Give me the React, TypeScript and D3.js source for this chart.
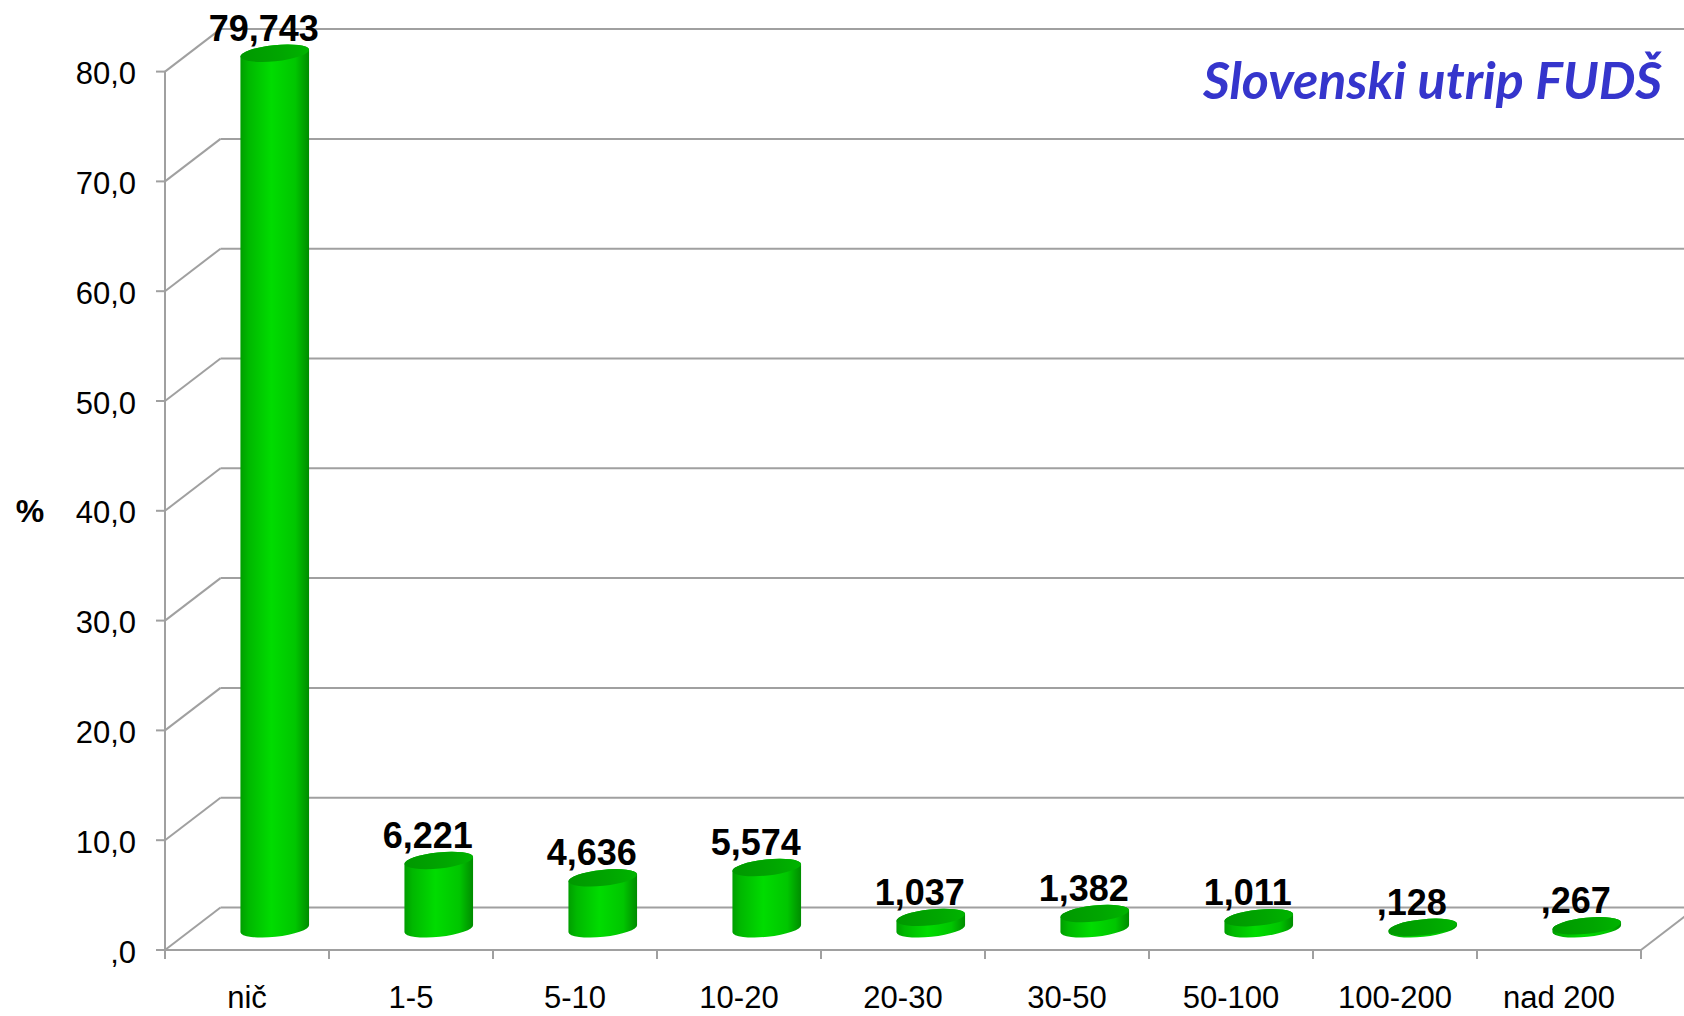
import * as d3 from "d3";

const categories = ["nič", "1-5", "5-10", "10-20", "20-30", "30-50", "50-100", "100-200", "nad 200"];
const values = [79.743, 6.221, 4.636, 5.574, 1.037, 1.382, 1.011, 0.128, 0.267];
const yTicks = [0, 10, 20, 30, 40, 50, 60, 70, 80];
const yAxisTitle = "%";
const chartTitle = "Slovenski utrip FUDŠ";

const W = 1684;
const H = 1016;

// 3D depth offset of the back wall
const depthX = 55.5;
const depthY = -42.5;

const gridColor = "#a0a0a0";
const font = "'Liberation Sans', Arial, sans-serif";

const fmtTick = (v: number) => (v === 0 ? ",0" : v.toFixed(1).replace(".", ","));
const fmtValue = (v: number) => v.toFixed(3).replace(".", ",").replace(/^0/, "");

export default function App() {
  const x = d3.scaleBand<string>().domain(categories).range([165, 1641]).padding(0);
  const y = d3.scaleLinear().domain([0, 80]).range([950, 71.6]);
  const bw = x.bandwidth();

  const rx = 34.5;
  const ry = 8;
  const tilt = -6;
  const th = (tilt * Math.PI) / 180;
  const ex = rx * Math.cos(th);
  const ey = rx * Math.sin(th);

  const y0 = y(0);
  const xL = x.range()[0];
  const xR = x.range()[1];

  return (
    <svg width={W} height={H} style={{ position: "absolute", left: 0, top: 0, background: "#fff" }}>
      <defs>
        <linearGradient id="body" x1="0" x2="1" y1="0" y2="0">
          <stop offset="0" stopColor="#009e00" />
          <stop offset="0.12" stopColor="#00b800" />
          <stop offset="0.45" stopColor="#00dc00" />
          <stop offset="0.8" stopColor="#00c600" />
          <stop offset="1" stopColor="#008c00" />
        </linearGradient>
        <linearGradient id="top" x1="0" x2="1" y1="0" y2="0">
          <stop offset="0" stopColor="#009800" />
          <stop offset="0.6" stopColor="#00a600" />
          <stop offset="1" stopColor="#00b400" />
        </linearGradient>
      </defs>

      {/* back wall gridlines */}
      {yTicks.map((t) => (
        <line
          key={"g" + t}
          x1={xL + depthX}
          x2={xR + depthX}
          y1={y(t) + depthY}
          y2={y(t) + depthY}
          stroke={gridColor}
          strokeWidth={2}
        />
      ))}

      {/* left wall diagonals */}
      {yTicks.map((t) => (
        <line
          key={"d" + t}
          x1={xL}
          x2={xL + depthX}
          y1={y(t)}
          y2={y(t) + depthY}
          stroke={gridColor}
          strokeWidth={2}
        />
      ))}

      {/* front vertical axis */}
      <line x1={xL} x2={xL} y1={y(80)} y2={y0 + 9} stroke={gridColor} strokeWidth={2} />
      {/* floor front edge and right edge */}
      <line x1={xL} x2={xR} y1={y0} y2={y0} stroke={gridColor} strokeWidth={2} />
      <line x1={xR} x2={xR + depthX} y1={y0} y2={y0 + depthY} stroke={gridColor} strokeWidth={2} />

      {/* y ticks */}
      {yTicks.map((t) => (
        <g key={"t" + t}>
          <line x1={xL - 9} x2={xL} y1={y(t)} y2={y(t)} stroke={gridColor} strokeWidth={2} />
          <text x={136} y={y(t) + 12.5} textAnchor="end" fontFamily={font} fontSize={31} fill="#000">
            {fmtTick(t)}
          </text>
        </g>
      ))}

      {/* x ticks and labels */}
      {categories.map((c, i) => (
        <g key={"x" + c}>
          <line x1={x(c)! + bw} x2={x(c)! + bw} y1={y0} y2={y0 + 9} stroke={gridColor} strokeWidth={2} />
          {i === 0 && <line x1={x(c)!} x2={x(c)!} y1={y0} y2={y0 + 9} stroke={gridColor} strokeWidth={2} />}
          <text x={x(c)! + bw / 2} y={1008} textAnchor="middle" fontFamily={font} fontSize={31} fill="#000">
            {c}
          </text>
        </g>
      ))}

      {/* cylinders */}
      {categories.map((c, i) => {
        const v = values[i];
        const cx = x(c)! + bw / 2 + depthX / 2;
        const cyB = y0 + depthY / 2;
        const cyT = y(v) + depthY / 2;
        const d =
          `M${cx - ex},${cyT - ey} L${cx - ex},${cyB - ey} ` +
          `A${rx},${ry} ${tilt} 0 0 ${cx + ex},${cyB + ey} ` +
          `L${cx + ex},${cyT + ey} ` +
          `A${rx},${ry} ${tilt} 0 0 ${cx - ex},${cyT - ey} Z`;
        return (
          <g key={"b" + c}>
            <path d={d} fill="url(#body)" />
            <ellipse
              cx={cx}
              cy={cyT}
              rx={rx}
              ry={ry}
              transform={`rotate(${tilt} ${cx} ${cyT})`}
              fill="url(#top)"
            />
            <text
              x={cx - 11}
              y={cyT - 12.5}
              textAnchor="middle"
              fontFamily={font}
              fontWeight="bold"
              fontSize={36}
              fill="#000"
            >
              {fmtValue(v)}
            </text>
          </g>
        );
      })}

      {/* axis title */}
      <text x={30} y={521.7} textAnchor="middle" fontFamily={font} fontWeight="bold" fontSize={32} fill="#000">
        {yAxisTitle}
      </text>

      {/* chart title */}
      <text
        x={1203}
        y={99}
        fontFamily="Lato, 'Open Sans', sans-serif"
        fontWeight="bold"
        fontStyle="italic"
        fontSize={52}
        fill="#3535cc"
        textLength={459}
        lengthAdjust="spacingAndGlyphs"
      >
        {chartTitle}
      </text>
    </svg>
  );
}
